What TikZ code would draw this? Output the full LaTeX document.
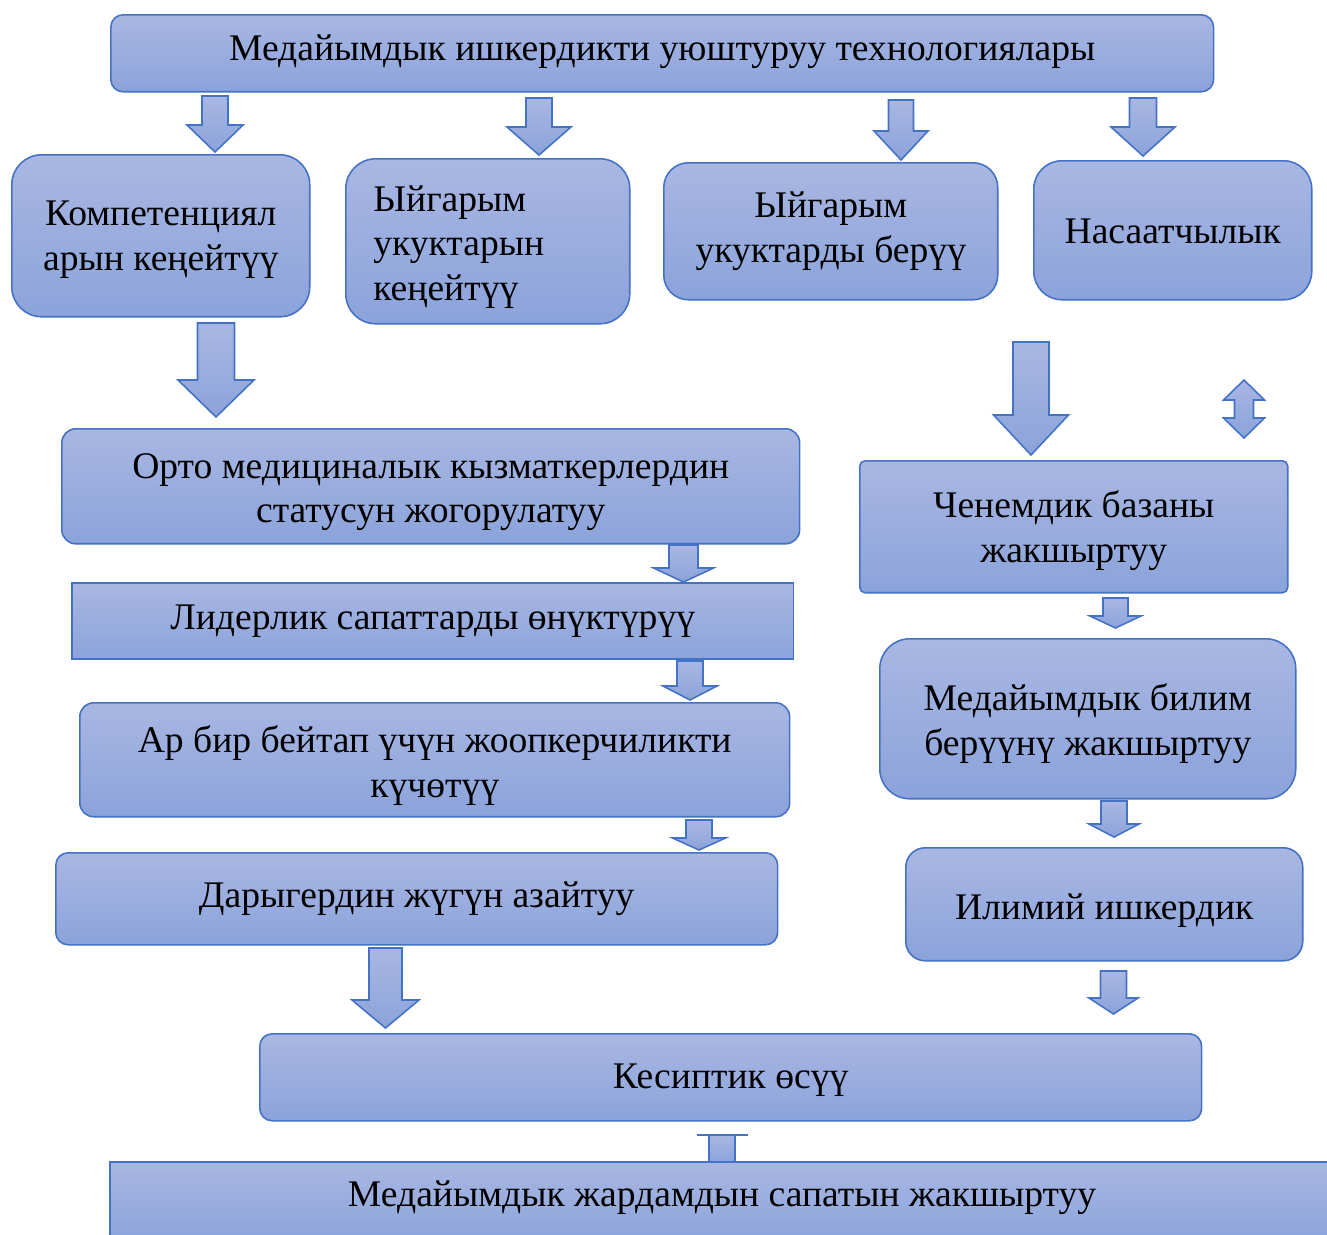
\documentclass[tikz,border=0pt]{standalone}
\usepackage{fontspec}
\setmainfont{Liberation Serif}
\definecolor{boxline}{HTML}{4472C4}
\definecolor{boxtop}{HTML}{A9B7E2}
\definecolor{boxbot}{HTML}{8BA3DB}
\newcommand\boxfont{\rmfamily\fontsize{21.4}{25.4}\selectfont}
\tikzset{
  box/.style={draw=boxline, line width=0.9pt, top color=boxtop, bottom color=boxbot,
    inner sep=0pt, anchor=north west},
  txt/.style={inner sep=0pt, align=center, font=\boxfont},
  blk/.style={draw=boxline, line width=0.9pt, top color=boxtop, bottom color=boxbot, line join=miter}
}
% block arrow: centre x, top y, shaft half width, head base y, head half width, tip y
\newcommand\blockarr[6]{%
  \draw[blk] (#1-#3,#2) -- (#1+#3,#2) -- (#1+#3,#4) -- (#1+#5,#4)
    -- (#1,#6) -- (#1-#5,#4) -- (#1-#3,#4) -- cycle;}

\begin{document}
\begin{tikzpicture}[x=0.02cm,y=-0.02cm]
    \clip (0,0) rectangle (1327,1234);
    % top
    \node[box, rounded corners=7pt, minimum width=22.06cm, minimum height=1.54cm] (tech) at (110,14) {};
    \node[txt] (techtxt) at ([yshift=0.03cm]tech.center) {Медайымдык ишкердикти уюштуруу технологиялары};
    \blockarr{215}{96}{13}{125}{28}{152}
    \blockarr{539}{98}{13}{127}{32}{155}
    \blockarr{901}{100}{12.5}{131}{27}{160}
    \blockarr{1143}{98}{13.5}{127}{32}{156}
    % second row
    \node[box, rounded corners=17pt, minimum width=5.96cm, minimum height=3.24cm] (komp) at (11,154) {};
    \node[txt] (komptxt) at ([yshift=-0.08cm]komp.center) {Компетенциял\\арын кеңейтүү};
    \node[box, rounded corners=17pt, minimum width=5.68cm, minimum height=3.3cm] (yigkeng) at (345,158) {};
    \node[txt, anchor=west, align=left] (yigkengtxt) at (373,247) {Ыйгарым\\укуктарын\\кеңейтүү};
    \node[box, rounded corners=14pt, minimum width=6.68cm, minimum height=2.74cm] (yigber) at (663,162) {};
    \node[txt] (yigbertxt) at (yigber.center) {Ыйгарым\\укуктарды берүү};
    \node[box, rounded corners=16pt, minimum width=5.56cm, minimum height=2.78cm] (nasaat) at (1033,160) {};
    \node[txt] (nasaattxt) at ([yshift=-0.02cm]nasaat.center) {Насаатчылык};
    % left column
    \blockarr{216}{323}{18.5}{380}{38}{417}
    \node[box, rounded corners=8pt, minimum width=14.76cm, minimum height=2.3cm] (orto) at (61,428) {};
    \node[txt] (ortotxt) at ([yshift=-0.12cm]orto.center) {Орто медициналык кызматкерлердин\\статусун жогорулатуу};
    \blockarr{683.5}{545}{14.5}{568}{30}{582}
    \node[box, minimum width=14.44cm, minimum height=1.52cm] (lider) at (71,582) {};
    \node[txt] (lidertxt) at (lider.center) {Лидерлик сапаттарды өнүктүрүү};
    \blockarr{690}{661}{13}{686}{27}{700}
    \node[box, rounded corners=8pt, minimum width=14.2cm, minimum height=2.28cm] (jooop) at (79,702) {};
    \node[txt] (jooptxt) at ([yshift=-0.12cm]jooop.center) {Ар бир бейтап үчүн жоопкерчиликти\\күчөтүү};
    \blockarr{699}{820}{13}{838}{26.5}{850}
    \node[box, rounded corners=7pt, minimum width=14.44cm, minimum height=1.84cm] (darig) at (55,852) {};
    \node[txt] (darigtxt) at (darig.center) {Дарыгердин жүгүн азайтуу};
    \blockarr{385.5}{948}{16.5}{1000}{33.5}{1028}
    % right column
    \blockarr{1031}{342}{18}{415}{37.5}{455}
    \draw[blk] (1244,380) -- (1264.5,400) -- (1253.5,400) -- (1253.5,418) -- (1264.5,418)
      -- (1244,438) -- (1223.5,418) -- (1234.5,418) -- (1234.5,400) -- (1223.5,400) -- cycle;
    \node[box, rounded corners=3pt, minimum width=8.56cm, minimum height=2.64cm] (chenem) at (859,460) {};
    \node[txt] (chenemtxt) at ([yshift=-0.08cm]chenem.center) {Ченемдик базаны\\жакшыртуу};
    \blockarr{1115.5}{598}{12.5}{616}{25.5}{628}
    \node[box, rounded corners=17pt, minimum width=8.32cm, minimum height=3.2cm] (bilim) at (879,638) {};
    \node[txt] (bilimtxt) at ([yshift=-0.1cm]bilim.center) {Медайымдык билим\\берүүнү жакшыртуу};
    \blockarr{1114}{801}{13}{824}{25}{837}
    \node[box, rounded corners=11pt, minimum width=7.94cm, minimum height=2.26cm] (ilim) at (905,847) {};
    \node[txt] (ilimtxt) at ([yshift=-0.12cm]ilim.center) {Илимий ишкердик};
    \blockarr{1113.5}{971}{13}{998}{24.5}{1014}
    % bottom
    \node[box, rounded corners=7pt, minimum width=18.84cm, minimum height=1.74cm] (kesip) at (259,1033) {};
    \node[txt] (kesiptxt) at ([yshift=-0.06cm]kesip.center) {Кесиптик өсүү};
    \draw[blk] (709,1162) -- (709,1135) -- (735,1135) -- (735,1162);
    \draw[boxline, line width=0.9pt] (697,1135) -- (748,1135);
    \node[box, minimum width=24.62cm, minimum height=1.58cm] (sapat) at (109,1161) {};
    \node[txt] (sapattxt) at (722,1198) {Медайымдык жардамдын сапатын жакшыртуу};
\end{tikzpicture}
\end{document}
